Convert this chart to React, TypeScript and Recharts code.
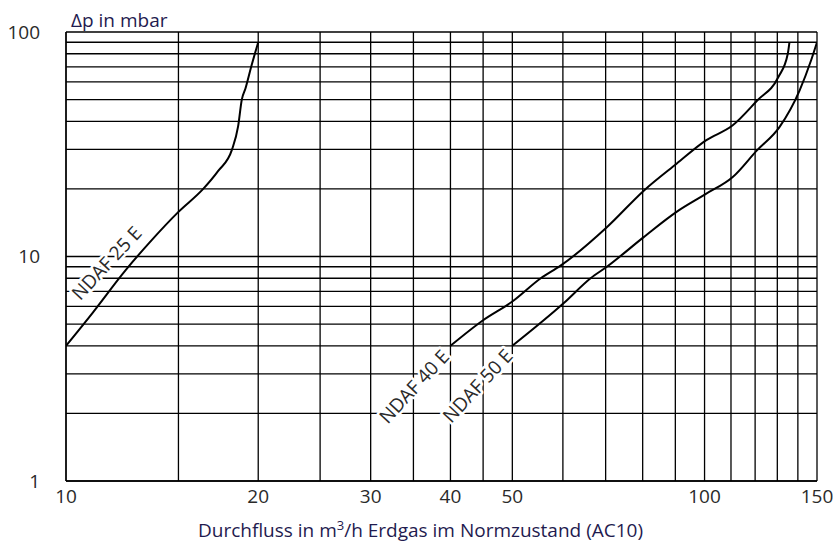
import React from 'react';
import { LineChart, Line, XAxis, YAxis, CartesianGrid, ReferenceDot } from 'recharts';

// grid / tick values
const xTicks = [10, 15, 20, 25, 30, 35, 40, 45, 50, 60, 70, 80, 90, 100, 110, 120, 130, 140, 150];
const xLabeled = [10, 20, 30, 40, 50, 100, 150];
const yTicks = [1, 2, 3, 4, 5, 6, 7, 8, 9, 10, 20, 30, 40, 50, 60, 70, 80, 90, 100];
const yLabeled = [1, 10, 100];

// curves (flow m3/h, dp mbar)
const ndaf25 = [
  { q: 10, dp: 4 },
  { q: 11, dp: 5.6 },
  { q: 12.4, dp: 8.7 },
  { q: 13.5, dp: 11.5 },
  { q: 15, dp: 15.8 },
  { q: 16.4, dp: 20 },
  { q: 17.3, dp: 24 },
  { q: 18.2, dp: 30 },
  { q: 18.6, dp: 38 },
  { q: 18.85, dp: 50 },
  { q: 19.1, dp: 56 },
  { q: 19.5, dp: 70 },
  { q: 20, dp: 90 },
];

const ndaf40 = [
  { q: 40, dp: 4 },
  { q: 45, dp: 5.2 },
  { q: 50, dp: 6.3 },
  { q: 55.4, dp: 8 },
  { q: 59.5, dp: 9.1 },
  { q: 70.3, dp: 13.5 },
  { q: 80.4, dp: 19.7 },
  { q: 90.4, dp: 25.9 },
  { q: 100.5, dp: 32.9 },
  { q: 110.7, dp: 38.4 },
  { q: 120.8, dp: 49.4 },
  { q: 130.5, dp: 63 },
  { q: 135, dp: 80 },
  { q: 135.8, dp: 90 },
];

const ndaf50 = [
  { q: 50, dp: 4 },
  { q: 60.2, dp: 6.2 },
  { q: 66.3, dp: 8 },
  { q: 70.3, dp: 9 },
  { q: 80.3, dp: 12.2 },
  { q: 90.4, dp: 15.8 },
  { q: 100.5, dp: 19 },
  { q: 110.7, dp: 22.6 },
  { q: 120.8, dp: 29.7 },
  { q: 131, dp: 37.7 },
  { q: 140.9, dp: 55 },
  { q: 146.9, dp: 75 },
  { q: 150, dp: 90 },
];

// curve names, placed where the text ends
const curveLabels = [
  { text: 'NDAF 25 E', q: 13.2, dp: 12.6 },
  { text: 'NDAF 40 E', q: 40, dp: 3.55 },
  { text: 'NDAF 50 E', q: 50.3, dp: 3.58 },
];

const FONT = '"Open Sans", sans-serif';
const TITLE_COLOR = '#1f1b4f';
const TICK_COLOR = '#2a2a2a';
const FS = 19;

const renderCurveLabel = (text: string) => (props: any) => {
  const vb = props.viewBox || {};
  const cx = vb.x + (vb.width || 0) / 2;
  const cy = vb.y + (vb.height || 0) / 2;
  return (
    <text
      x={cx}
      y={cy}
      textAnchor="end"
      transform={`rotate(-47 ${cx} ${cy})`}
      fontFamily={FONT}
      fontSize={19}
      fill={TICK_COLOR}
      stroke="#fff"
      strokeWidth={5}
      paintOrder="stroke"
      strokeLinejoin="round"
    >
      {text}
    </text>
  );
};

const XTitle = (props: any) => {
  const vb = props.viewBox;
  return (
    <text
      x={vb.x + vb.width / 2 - 21}
      y={vb.y + 56}
      textAnchor="middle"
      fontFamily={FONT}
      fontSize={FS}
      fill={TITLE_COLOR}
    >
      Durchfluss in m
      <tspan dy={-7} fontSize={13}>3</tspan>
      <tspan dy={7}>/h Erdgas im Normzustand (AC10)</tspan>
    </text>
  );
};

const YTitle = (props: any) => {
  const vb = props.viewBox;
  return (
    <text x={vb.x + vb.width + 5} y={vb.y - 5} fontFamily={FONT} fontSize={FS} fill={TITLE_COLOR}>
      Δp in mbar
    </text>
  );
};

export default function App() {
  return (
    <div style={{ position: 'absolute', left: 0, top: 0, background: '#fff' }}>
      <LineChart width={833} height={547} margin={{ top: 32, right: 16, bottom: 6, left: 6 }}>
        <CartesianGrid stroke="#000" strokeWidth={1.3} />
        <XAxis
          dataKey="q"
          type="number"
          scale="log"
          domain={[10, 150]}
          ticks={xTicks}
          interval={0}
          allowDataOverflow
          height={60}
          tickLine={false}
          tickMargin={3}
          axisLine={{ stroke: '#000', strokeWidth: 1.3 }}
          tick={{ fill: TICK_COLOR, fontSize: FS, fontFamily: FONT }}
          tickFormatter={(v: number) => (xLabeled.includes(v) ? String(v) : '')}
          label={<XTitle />}
        />
        <YAxis
          dataKey="dp"
          type="number"
          scale="log"
          domain={[1, 100]}
          ticks={yTicks}
          interval={0}
          allowDataOverflow
          width={60}
          tickLine={false}
          tickMargin={20}
          axisLine={{ stroke: '#000', strokeWidth: 1.3 }}
          tick={{ fill: TICK_COLOR, fontSize: FS, fontFamily: FONT }}
          tickFormatter={(v: number) => (yLabeled.includes(v) ? String(v) : '')}
          label={<YTitle />}
        />
        <Line data={ndaf25} dataKey="dp" type="monotone" stroke="#000" strokeWidth={2} dot={false} isAnimationActive={false} />
        <Line data={ndaf40} dataKey="dp" type="monotone" stroke="#000" strokeWidth={2} dot={false} isAnimationActive={false} />
        <Line data={ndaf50} dataKey="dp" type="monotone" stroke="#000" strokeWidth={2} dot={false} isAnimationActive={false} />
        {curveLabels.map((l) => (
          <ReferenceDot
            key={l.text}
            x={l.q}
            y={l.dp}
            r={1}
            fill="none"
            stroke="none"
            label={renderCurveLabel(l.text)}
          />
        ))}
      </LineChart>
    </div>
  );
}
